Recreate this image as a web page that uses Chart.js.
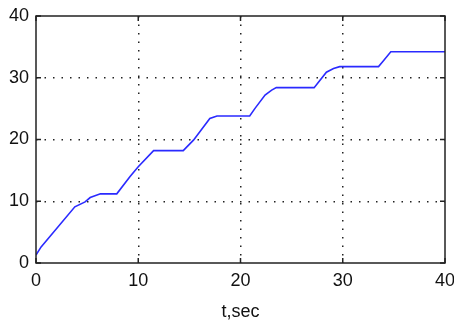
<!DOCTYPE html>
<html>
<head>
<meta charset="utf-8">
<script src="https://cdn.jsdelivr.net/npm/chart.js@4.4.1/dist/chart.umd.min.js"></script>
<style>
  html, body { margin: 0; padding: 0; background: #fff; }
  #wrap { width: 454px; height: 325px; }
</style>
</head>
<body>
<div id="wrap"><canvas id="chart"></canvas></div>
<script>
// samples
const timeSec = [0, 0.5, 3.8, 4.8, 5.3, 6.3, 7.9, 9.2, 10.0, 11.5, 14.4, 15.4, 17.0, 17.7,
  20.9, 21.4, 22.4, 23.05, 23.5, 27.2, 28.4, 29.1, 29.7, 33.5, 33.9, 34.7, 40]
const values = [1.3, 2.6, 9.1, 9.9, 10.6, 11.2, 11.2, 14.0, 15.6, 18.2, 18.2, 19.9, 23.4, 23.8,
  23.8, 25.0, 27.2, 28.0, 28.4, 28.4, 30.9, 31.5, 31.8, 31.8, 32.6, 34.2, 34.2]
const axisTicks = [0, 10, 20, 30, 40]
const xTitle = 't,sec'

const font = { family: '"Liberation Sans", Arial, sans-serif', size: 18 }
const inkColor = '#111'

const gridColor = (ctx) => {
  const v = ctx.tick && ctx.tick.value
  return (v === 0 || v === 40) ? 'rgba(0,0,0,0)' : '#222'
}

// box around the axes + inward tick marks on every side
const matlabBox = {
  id: 'matlabBox',
  afterDatasetsDraw(chart) {
    const { ctx, chartArea: a, scales } = chart
    ctx.save()
    ctx.strokeStyle = '#222'
    ctx.lineWidth = 1.5
    ctx.strokeRect(a.left, a.top, a.right - a.left, a.bottom - a.top)
    const len = 5
    ctx.beginPath()
    axisTicks.forEach(v => {
      const x = scales.x.getPixelForValue(v)
      ctx.moveTo(x, a.bottom); ctx.lineTo(x, a.bottom - len)
      ctx.moveTo(x, a.top); ctx.lineTo(x, a.top + len)
      const y = scales.y.getPixelForValue(v)
      ctx.moveTo(a.left, y); ctx.lineTo(a.left + len, y)
      ctx.moveTo(a.right, y); ctx.lineTo(a.right - len, y)
    })
    ctx.stroke()
    ctx.restore()
  }
}

// dotted grid in the MATLAB style (v4 takes grid dash from border.dash)
const dottedBorder = { display: false, dash: [1.5, 7] }

new Chart(document.getElementById('chart'), {
  type: 'line',
  data: {
    datasets: [{
      data: timeSec.map((t, i) => ({ x: t, y: values[i] })),
      borderColor: '#2a2aff',
      borderWidth: 1.6,
      pointRadius: 0,
      tension: 0,
      fill: false
    }]
  },
  options: {
    responsive: true,
    maintainAspectRatio: false,
    animation: false,
    layout: { padding: { top: 16, right: 9, left: 0, bottom: 0 } },
    plugins: {
      legend: { display: false },
      tooltip: { enabled: false }
    },
    scales: {
      x: {
        type: 'linear',
        min: 0,
        max: 40,
        afterBuildTicks: (scale) => { scale.ticks = axisTicks.map(v => ({ value: v })) },
        afterFit: (scale) => {
          scale.height = 62
          scale.paddingLeft = 0
          scale.paddingRight = 0
        },
        border: dottedBorder,
        grid: {
          color: gridColor,
          lineWidth: 1.5,
          drawTicks: false
        },
        ticks: { font, color: inkColor, padding: 7, maxRotation: 0 },
        title: {
          display: true,
          text: xTitle,
          font,
          color: inkColor,
          padding: { top: 0, bottom: 2 }
        }
      },
      y: {
        type: 'linear',
        min: 0,
        max: 40,
        afterBuildTicks: (scale) => { scale.ticks = axisTicks.map(v => ({ value: v })) },
        afterFit: (scale) => {
          scale.width = 36
          scale.paddingTop = 0
          scale.paddingBottom = 0
        },
        border: dottedBorder,
        grid: {
          color: gridColor,
          lineWidth: 1.5,
          drawTicks: false
        },
        ticks: { font, color: inkColor, padding: 7 }
      }
    }
  },
  plugins: [matlabBox]
})
</script>
</body>
</html>
